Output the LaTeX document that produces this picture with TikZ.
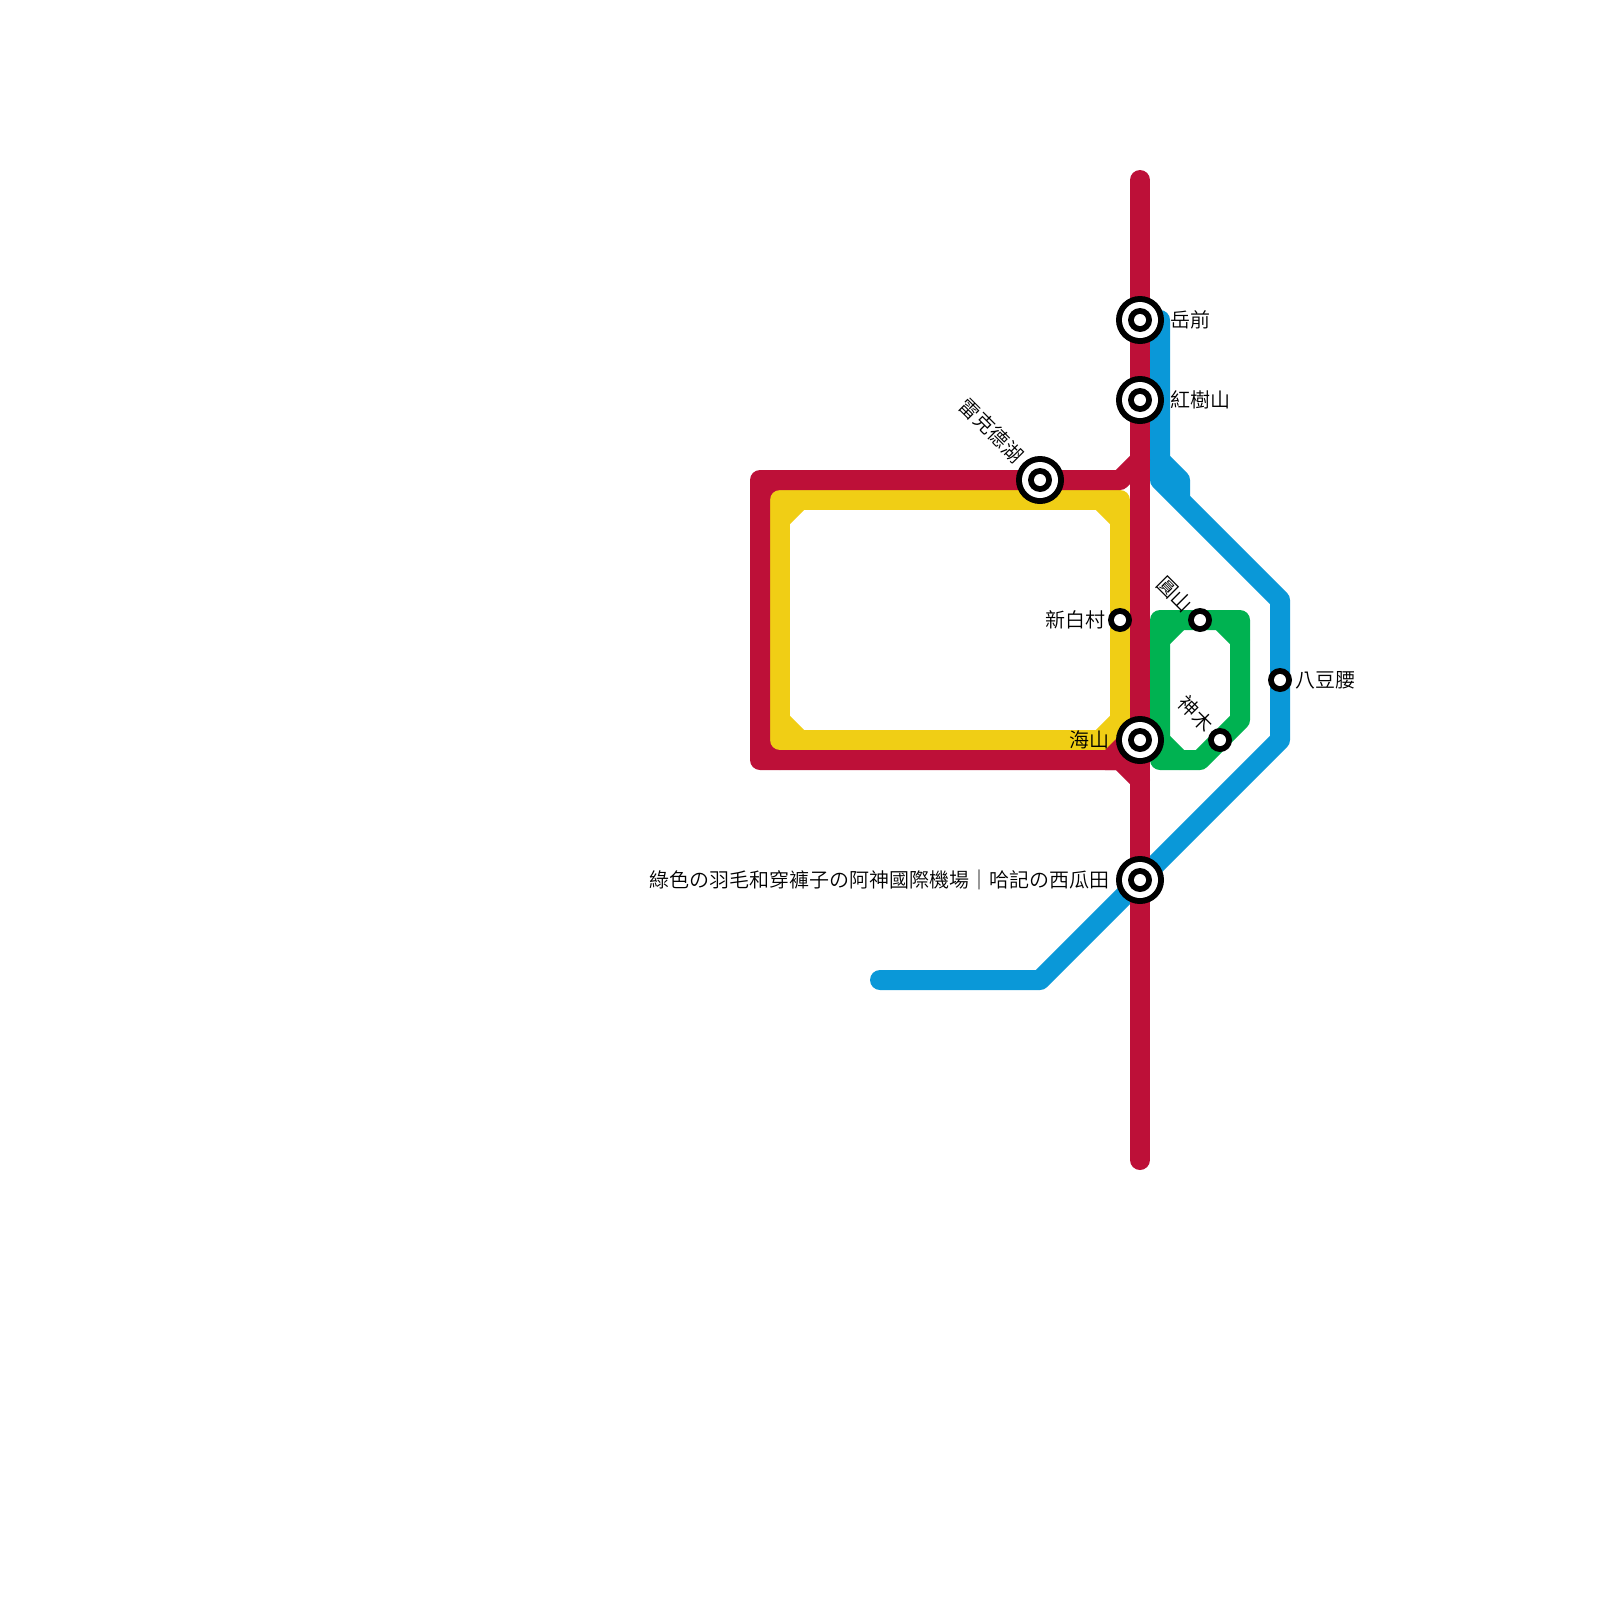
\documentclass[tikz,border=0pt]{standalone}
\usepackage{fontspec}
\setmainfont{Noto Sans CJK TC}[UprightFont=* DemiLight]
\definecolor{lred}{HTML}{BD1038}
\definecolor{lyel}{HTML}{F0CE15}
\definecolor{lblu}{HTML}{0A98D8}
\definecolor{lgrn}{HTML}{00B251}
\tikzset{
  metro/.style={line width=20pt,line join=round,line cap=round},
  lbl/.style={inner sep=0pt,font=\fontsize{20pt}{24pt}\selectfont,text=black},
  stnode/.style={inner sep=0pt,outer sep=0pt,minimum size=0pt},
}
\newcommand\bigstn[2]{\node[stnode] (#1) at (#2) {};
  \fill[black] (#1.center) circle (24pt);
  \fill[white] (#1.center) circle (18pt);
  \fill[black] (#1.center) circle (12pt);
  \fill[white] (#1.center) circle (6pt);}
\newcommand\smallstn[2]{\node[stnode] (#1) at (#2) {};
  \fill[black] (#1.center) circle (12pt);
  \fill[white] (#1.center) circle (6pt);}
\begin{document}
\begin{tikzpicture}[x=1pt,y=-1pt]
\useasboundingbox (0,0) rectangle (1600,1600);
% anchors
\coordinate (rT) at (1140,180); \coordinate (rB) at (1140,1160);
\coordinate (rA) at (1140,460); \coordinate (rB1) at (1120,480);
\coordinate (rC) at (760,480); \coordinate (rD) at (760,760);
\coordinate (rE) at (1120,760); \coordinate (rF) at (1140,780);
\coordinate (yA) at (780,500); \coordinate (yB) at (1120,500); \coordinate (yC) at (1120,740); \coordinate (yD) at (780,740);
\coordinate (bT) at (1160,320); \coordinate (b1) at (1160,460); \coordinate (b2) at (1180,480); \coordinate (b3) at (1180,500);
\coordinate (b4) at (1160,480); \coordinate (b5) at (1280,600); \coordinate (b6) at (1280,740);
\coordinate (b7) at (1040,980); \coordinate (b8) at (880,980);
\coordinate (gA) at (1160,620); \coordinate (gB) at (1240,620); \coordinate (gC) at (1240,720);
\coordinate (gD) at (1200,760); \coordinate (gE) at (1160,760);
% blue
\draw[metro,lblu] (bT) -- (b4) -- (b5) -- (b6) -- (b7) -- (b8);
\draw[metro,lblu,line cap=butt] (b1) -- (b2) -- (b3);
% green
\draw[metro,lgrn] (gA) -- (gB) -- (gC) -- (gD) -- (gE) -- cycle;
\draw[metro,lgrn] (1180,620) -- (1160,640);
\draw[metro,lgrn] (1220,620) -- (1240,640);
\draw[metro,lgrn] (1160,740) -- (1180,760);
% red corner fillets, under the yellow
\draw[metro,lred] (780,480) -- (760,500);
\draw[metro,lred] (760,740) -- (780,760);
% yellow
\draw[metro,lyel] (yA) -- (yB) -- (yC) -- (yD) -- cycle;
\draw[metro,lyel] (800,500) -- (780,520);
\draw[metro,lyel] (1100,500) -- (1120,520);
\draw[metro,lyel] (1120,720) -- (1100,740);
\draw[metro,lyel] (780,720) -- (800,740);
% red
\draw[metro,lred] (rT) -- (rB);
\draw[metro,lred] (rA) -- (rB1) -- (rC) -- (rD) -- (rE) -- (rF);
\fill[lred] (1105,750) -- (1122,733) -- (1140,750) -- (1140,770) -- (1105,770) -- cycle;
% stations
\bigstn{yue}{1140,320}
\bigstn{hong}{1140,400}
\bigstn{lei}{1040,480}
\bigstn{hai}{1140,740}
\bigstn{lv}{1140,880}
\smallstn{xin}{1120,620}
\smallstn{yuan}{1200,620}
\smallstn{shen}{1220,740}
\smallstn{ba}{1280,680}
% labels
\node[lbl,anchor=west] (tyue) at (1170,320) {岳前};
\node[lbl,anchor=west] (thong) at (1170,400) {紅樹山};
\node[lbl,anchor=west] (tba) at (1295,680) {八豆腰};
\node[lbl,anchor=east] (txin) at (1106,620) {新白村};
\node[lbl,anchor=east] (thai) at (1110,740) {海山};
\node[lbl,anchor=east] (tlv) at (1110,880) {綠色の羽毛和穿褲子の阿神國際機場｜哈記の西瓜田};
\node[lbl,anchor=east,rotate=-45] (tlei) at (1020,459) {雷克德湖};
\node[lbl,anchor=east,rotate=-45] (tyuan) at (1189,609) {圓山};
\node[lbl,anchor=east,rotate=-45] (tshen) at (1210,728) {神木};
\end{tikzpicture}
\end{document}
